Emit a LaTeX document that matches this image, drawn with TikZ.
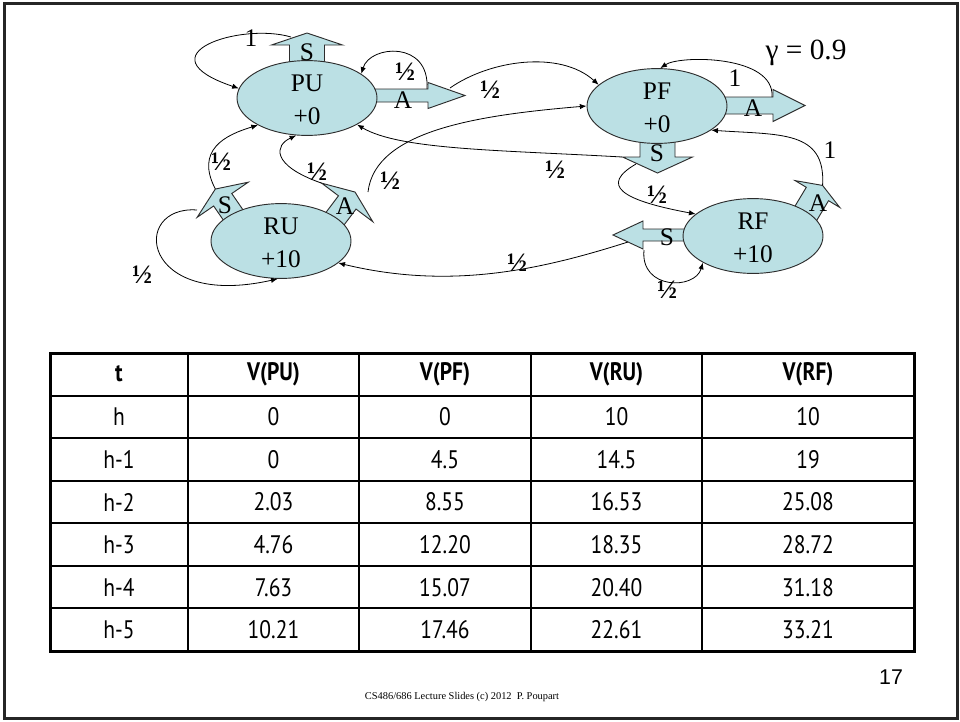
\documentclass[tikz,border=0pt]{standalone}
\usepackage{fontspec}
\setmainfont{Liberation Serif}
\newfontfamily\tabfont[FakeStretch=0.85]{PT Sans}
\newfontfamily\numfont{Liberation Sans}
\usetikzlibrary{arrows.meta,shapes.geometric}
\definecolor{bubble}{RGB}{187,224,228}
\definecolor{outline}{RGB}{45,45,45}

% fat block arrow: #1 name, #2 base point, #3 direction (degrees, counter-clockwise),
% #4 length, #5 shaft half-width, #6 head half-width, #7 head length
\newcommand{\fatarrow}[7]{%
  \begin{scope}[shift={#2}, rotate=#3]
    \draw[blockarrow] (0,-#5) -- ({#4-#7},-#5) -- ({#4-#7},-#6) -- (#4,0)
      -- ({#4-#7},#6) -- ({#4-#7},#5) -- (0,#5) -- cycle;
    \coordinate (#1-tip) at (#4,0);
    \coordinate (#1-left) at ({#4-#7},-#6);
    \coordinate (#1-right) at ({#4-#7},#6);
  \end{scope}}

\begin{document}
\begin{tikzpicture}[x=0.75pt,y=-0.75pt,
  state/.style={shape=ellipse, draw=outline, fill=bubble, line width=0.7pt,
    minimum width=105pt, minimum height=47pt, inner sep=0pt, align=center,
    font=\fontsize{19}{24.5}\selectfont},
  blockarrow/.style={draw=outline, fill=bubble, line width=0.7pt, line join=miter},
  letter/.style={inner sep=0pt, font=\fontsize{19}{23}\selectfont},
  trans/.style={draw=black, line width=0.6pt, -{Latex[length=5pt,width=4pt]}},
  half/.style={inner sep=0pt, font=\fontsize{20}{24}\selectfont\bfseries},
  one/.style={inner sep=0pt, font=\fontsize{19}{23}\selectfont},
  cell/.style={inner sep=0pt, font=\tabfont\fontsize{19}{22}\selectfont},
  head/.style={inner sep=0pt, font=\tabfont\bfseries\fontsize{19}{22}\selectfont}]
\useasboundingbox (0,0) rectangle (960,721);

% slide frame
\draw[black!85, line width=2.25pt] (4.5,3.5) rectangle (957,718.5);

% action arrows (drawn under the states)
\fatarrow{pus}{(307,75)}{90}{42}{17.5}{35.5}{12}
\fatarrow{pua}{(367,95.5)}{0}{98}{6.5}{13}{37}
\fatarrow{pfa}{(717,105.5)}{0}{88}{8.5}{16}{32}
\fatarrow{pfs}{(657.5,127)}{-90}{46}{17.5}{35}{16}
\fatarrow{rfs}{(693,235)}{180}{80}{6}{14}{30}
\fatarrow{rus}{(238,222)}{124.5}{40}{11}{31}{13}
\fatarrow{rua}{(331,224)}{53}{40}{11}{32}{13}
\fatarrow{rfa}{(803,218)}{59}{38}{13}{26}{10}

% states
\node[state] (PU) at (307,98) {\rule{0pt}{15pt}PU\\+0};
\node[state] (PF) at (657,106) {\rule{0pt}{15pt}PF\\+0};
\node[state] (RU) at (281,241) {\rule{0pt}{15pt}RU\\+10};
\node[state] (RF) at (753,236) {\rule{0pt}{15pt}RF\\+10};

% action letters
\node[letter] (lpus) at (307,52) {S};
\node[letter] (lpua) at (403,100) {A};
\node[letter] (lpfa) at (753,108) {A};
\node[letter] (lpfs) at (657,153) {S};
\node[letter] (lrfs) at (667,237) {S};
\node[letter] (lrus) at (225,205) {S};
\node[letter] (lrua) at (345,206) {A};
\node[letter] (lrfa) at (818,203) {A};

% transition anchors on the arrows
\coordinate (spu) at (291,37);
\coordinate (apu1) at (427,89);
\coordinate (apu2) at (450,88);
\coordinate (apf) at (772,97);
\coordinate (spf1) at (622,157);
\coordinate (spf2) at (636,164);
\coordinate (srf1) at (628,242);
\coordinate (srf2) at (644,250);
\coordinate (sru2) at (197,210);
\coordinate (aru2) at (368,192);

% transitions
\draw[trans] (spu) .. controls (240,22) and (140,55) .. (PU.172);
\draw[trans] (apu1) .. controls (430,40) and (370,45) .. (PU.24);
\draw[trans] (apu2) .. controls (490,60) and (560,50) .. (PF.160);
\draw[trans] (apf) .. controls (775,55) and (680,55) .. (PF.85);
\draw[trans] (spf1) .. controls (500,150) and (400,150) .. (PU.332);
\draw[trans] (aru2) .. controls (375,130) and (480,115) .. (PF.180);
\draw[trans] (rfa-tip) .. controls (826,130) and (780,135) .. (PF.336);
\draw[trans] (spf2) .. controls (600,185) and (620,200) .. (RF.159);
\draw[trans] (srf1) .. controls (540,270) and (450,290) .. (RU.339);
\draw[trans] (srf2) .. controls (640,290) and (695,290) .. (RF.208);
\draw[trans] (rus-tip) .. controls (195,150) and (225,135) .. (PU.209);
\draw[trans] (sru2) .. controls (130,205) and (140,310) .. (RU.265);
\draw[trans] (rua-left) .. controls (270,165) and (275,145) .. (PU.254);

% probabilities
\node[one] (p1) at (251,38) {1};
\node[half] (p2) at (405,72) {½};
\node[half] (p3) at (490,90) {½};
\node[one] (p4) at (735,78) {1};
\node[half] (p5) at (555,170) {½};
\node[half] (p6) at (390,181) {½};
\node[one] (p7) at (830,150) {1};
\node[half] (p8) at (657,195) {½};
\node[half] (p9) at (517,263) {½};
\node[half] (p10) at (667,290) {½};
\node[half] (p11) at (221,162) {½};
\node[half] (p12) at (142,275) {½};
\node[half] (p13) at (317,172) {½};

\node[inner sep=0pt, font=\fontsize{22}{26}\selectfont] (gamma) at (806,53) {γ = 0.9};

% value table
\draw[line width=1.5pt] (188,353) -- (188,651) (359,353) -- (359,651)
  (531,353) -- (531,651) (702,353) -- (702,651);
\foreach \yy in {395.6,438.1,480.7,523.3,565.9,608.4}
  \draw[line width=1.5pt] (50,\yy) -- (914,\yy);
\draw[line width=2.25pt] (50,353) rectangle (914,651);

\foreach \txt [count=\i] in {t,V(PU),V(PF),V(RU),V(RF)} {
  \pgfmathsetmacro{\cx}{{119,273.5,445,616.5,808}[\i-1]}
  \node[head] (h\i) at (\cx,374) {\txt};
}
\foreach \row [count=\r] in {
  {h,0,0,10,10},
  {h-1,0,4.5,14.5,19},
  {h-2,2.03,8.55,16.53,25.08},
  {h-3,4.76,12.20,18.35,28.72},
  {h-4,7.63,15.07,20.40,31.18},
  {h-5,10.21,17.46,22.61,33.21}} {
  \pgfmathsetmacro{\cy}{374.3+42.57*\r}
  \foreach \txt [count=\c] in \row {
    \pgfmathsetmacro{\cx}{{119,273.5,445,616.5,808}[\c-1]}
    \node[cell] (v\r-\c) at (\cx,\cy) {\txt};
  }
}

% page number and footer
\node[inner sep=0pt, font=\numfont\fontsize{16}{19}\selectfont] (page) at (891,677) {17};
\node[inner sep=0pt, font=\fontsize{7.8}{9}\selectfont] (footer) at (462,697)
  {CS486/686 Lecture Slides (c) 2012\ \ P. Poupart};
\end{tikzpicture}
\end{document}
